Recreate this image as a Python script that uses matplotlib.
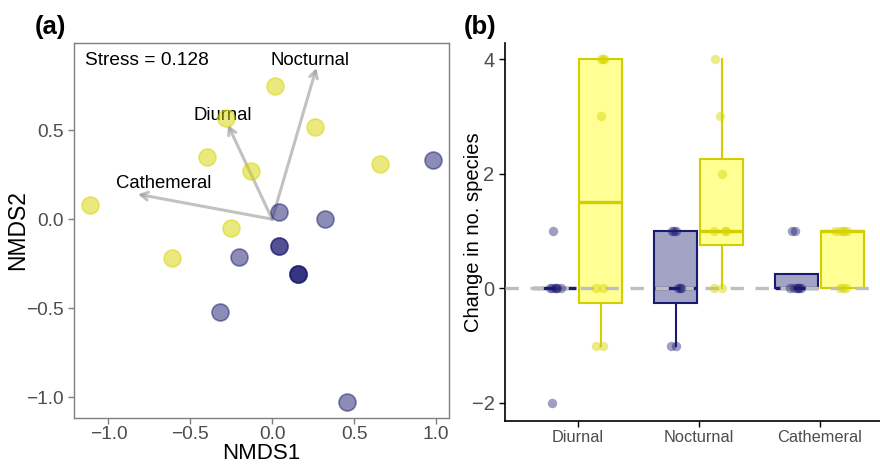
import matplotlib
matplotlib.use('Agg')
import matplotlib.pyplot as plt
import numpy as np

plt.rcParams['font.family'] = ['Liberation Sans', 'DejaVu Sans']
plt.rcParams['axes.unicode_minus'] = True

# ---- panel (a): NMDS ordination ----
day_x = [0.02, -0.28, 0.26, -0.40, -0.13, 0.66, -1.11, -0.25, -0.61]
day_y = [0.75, 0.57, 0.52, 0.35, 0.27, 0.31, 0.08, -0.05, -0.22]
night_x = [0.98, 0.04, 0.32, 0.04, 0.04, -0.20, 0.155, 0.155, 0.155, -0.32, 0.46]
night_y = [0.33, 0.04, 0.0, -0.15, -0.15, -0.21, -0.31, -0.31, -0.31, -0.52, -1.03]
vec_names = ['Nocturnal', 'Diurnal', 'Cathemeral']
vec_x = [0.27, -0.27, -0.82]
vec_y = [0.85, 0.53, 0.14]
vec_label_x = [0.23, -0.30, -0.66]
vec_label_y = [0.89, 0.585, 0.20]
stress = 0.128

# ---- panel (b): change in species per activity group ----
groups = ['Diurnal', 'Nocturnal', 'Cathemeral']
purple_vals = [[-2, 0, 0, 0, 0, 0, 0, 1],
               [-1, -1, 0, 0, 0, 1, 1, 1],
               [0, 0, 0, 0, 0, 0, 1, 1]]
yellow_vals = [[-1, -1, 0, 0, 3, 4, 4, 4],
               [0, 0, 1, 1, 1, 2, 3, 4],
               [0, 0, 0, 1, 1, 1, 1, 1]]
# jitter offsets
purple_jit = [[-0.02, -0.04, -0.02, 0.0, 0.01, 0.02, 0.05, -0.01],
              [-0.035, 0.005, 0.02, 0.04, 0.045, -0.03, -0.01, 0.005],
              [-0.05, -0.02, 0.02, 0.035, 0.0, 0.01, -0.035, -0.01]]
yellow_jit = [[-0.035, 0.02, -0.04, 0.02, 0.0, 0.0, 0.02, 0.03],
              [-0.06, 0.005, -0.06, 0.03, 0.035, 0.005, -0.01, -0.05],
              [-0.02, 0.025, 0.0, -0.06, -0.02, 0.01, 0.04, 0.0]]

navy = '#1a1a70'
yel_pt = '#d6d400'
yel_box = '#d2cf00'
tick_grey = '#4d4d4d'


def minus_fmt(v, p):
    return ('%.1f' % v).replace('-', '\u2212')


fig = plt.figure(figsize=(8.8, 4.68), dpi=100)

# panel a
ax1 = fig.add_axes([0.0841, 0.1068, 0.4261, 0.8012])
for i in range(len(vec_names)):
    ax1.annotate('', xy=(vec_x[i], vec_y[i]), xytext=(0, 0),
                 arrowprops=dict(arrowstyle='->,head_length=0.5,head_width=0.28',
                                 color='#999999', alpha=0.6, lw=2.2,
                                 shrinkA=0, shrinkB=0))
    ax1.text(vec_label_x[i], vec_label_y[i], vec_names[i], fontsize=13.3,
             ha='center', va='center', color='black')
ax1.scatter(day_x, day_y, s=150, color=yel_pt, alpha=0.5, linewidths=1.2, zorder=3)
ax1.scatter(night_x, night_y, s=150, color=navy, alpha=0.5, linewidths=1.2, zorder=3)
ax1.text(-1.14, 0.893, 'Stress = %.3f' % stress, fontsize=13.8, va='center', ha='left')
ax1.set_xlim(-1.21, 1.08)
ax1.set_ylim(-1.118, 0.99)
ax1.set_xticks([-1.0, -0.5, 0.0, 0.5, 1.0])
ax1.set_yticks([-1.0, -0.5, 0.0, 0.5])
ax1.xaxis.set_major_formatter(matplotlib.ticker.FuncFormatter(minus_fmt))
ax1.yaxis.set_major_formatter(matplotlib.ticker.FuncFormatter(minus_fmt))
ax1.tick_params(labelsize=13.8, colors='#7f7f7f', labelcolor=tick_grey, length=4, width=1)
ax1.tick_params(axis='x', pad=2)
for sp in ax1.spines.values():
    sp.set_color('#7f7f7f')
    sp.set_linewidth(1)
ax1.set_xlabel('NMDS1', fontsize=16, labelpad=0)
ax1.set_ylabel('NMDS2', fontsize=16.5, labelpad=-2.5)
fig.text(0.039, 0.943, '(a)', fontsize=18.5, fontweight='bold', va='center', ha='left')

# panel b
ax2 = fig.add_axes([0.5739, 0.1011, 0.4261, 0.8069])
pos = np.arange(len(groups))
off = 0.19
bw = 0.36
ax2.boxplot(purple_vals, positions=pos - off, widths=bw, patch_artist=True,
            showfliers=False, manage_ticks=False,
            boxprops=dict(facecolor=(26/255, 26/255, 112/255, 0.4), edgecolor=navy, linewidth=1.5),
            medianprops=dict(color=navy, linewidth=2.4),
            whiskerprops=dict(color=navy, linewidth=1.5),
            capprops=dict(linewidth=0))
ax2.boxplot(yellow_vals, positions=pos + off, widths=bw, patch_artist=True,
            showfliers=False, manage_ticks=False,
            boxprops=dict(facecolor=(1, 1, 0, 0.42), edgecolor=yel_box, linewidth=1.5),
            medianprops=dict(color=yel_box, linewidth=2.4),
            whiskerprops=dict(color=yel_box, linewidth=1.5),
            capprops=dict(linewidth=0))
ax2.axhline(0, color='#bebebe', lw=2.4, dashes=(4, 3.5), zorder=3)
for i in range(len(groups)):
    ax2.scatter(pos[i] - off + np.array(purple_jit[i]), purple_vals[i], s=46,
                color=navy, alpha=0.42, linewidths=0, zorder=4)
    ax2.scatter(pos[i] + off + np.array(yellow_jit[i]), yellow_vals[i], s=46,
                color=yel_pt, alpha=0.45, linewidths=0, zorder=4)
ax2.set_xlim(-0.6, 2.5)
ax2.set_ylim(-2.31, 4.28)
ax2.set_xticks(pos)
ax2.set_xticklabels(groups)
ax2.set_yticks([-2, 0, 2, 4])
ax2.tick_params(axis='y', labelsize=14.5, labelcolor=tick_grey, length=4, width=1)
ax2.tick_params(axis='x', labelsize=11.8, labelcolor=tick_grey, length=4, width=1, pad=2.5)
ax2.spines['top'].set_visible(False)
ax2.spines['right'].set_visible(False)
ax2.spines['left'].set_linewidth(1.2)
ax2.spines['bottom'].set_linewidth(1.2)
ax2.set_ylabel('Change in no. species', fontsize=14.5, labelpad=-8)
fig.text(0.527, 0.943, '(b)', fontsize=18.5, fontweight='bold', va='center', ha='left')

fig.savefig('out.png', dpi=100)
